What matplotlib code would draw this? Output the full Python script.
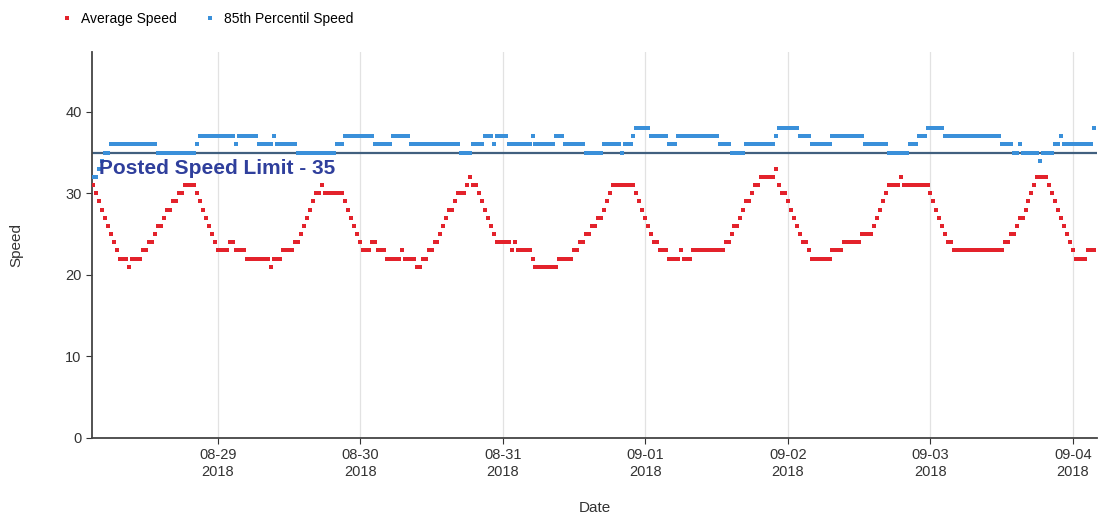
import pandas as pd
import matplotlib
matplotlib.use('Agg')
import matplotlib.pyplot as plt
import matplotlib.dates as mdates

plt.rcParams['font.family'] = ['Liberation Sans', 'DejaVu Sans']

# readings every 30 minutes starting 2018-08-28 03:00
start_time = '2018-08-28 03:00'
interval = '30min'

avg_speed = [
    31, 30, 29, 28, 27, 26, 25, 24, 23, 22, 22, 22,
    21, 22, 22, 22, 22, 23, 23, 24, 24, 25, 26, 26,
    27, 28, 28, 29, 29, 30, 30, 31, 31, 31, 31, 30,
    29, 28, 27, 26, 25, 24, 23, 23, 23, 23, 24, 24,
    23, 23, 23, 23, 22, 22, 22, 22, 22, 22, 22, 22,
    21, 22, 22, 22, 23, 23, 23, 23, 24, 24, 25, 26,
    27, 28, 29, 30, 30, 31, 30, 30, 30, 30, 30, 30,
    30, 29, 28, 27, 26, 25, 24, 23, 23, 23, 24, 24,
    23, 23, 23, 22, 22, 22, 22, 22, 23, 22, 22, 22,
    22, 21, 21, 22, 22, 23, 23, 24, 24, 25, 26, 27,
    28, 28, 29, 30, 30, 30, 31, 32, 31, 31, 30, 29,
    28, 27, 26, 25, 24, 24, 24, 24, 24, 23, 24, 23,
    23, 23, 23, 23, 22, 21, 21, 21, 21, 21, 21, 21,
    21, 22, 22, 22, 22, 22, 23, 23, 24, 24, 25, 25,
    26, 26, 27, 27, 28, 29, 30, 31, 31, 31, 31, 31,
    31, 31, 31, 30, 29, 28, 27, 26, 25, 24, 24, 23,
    23, 23, 22, 22, 22, 22, 23, 22, 22, 22, 23, 23,
    23, 23, 23, 23, 23, 23, 23, 23, 23, 24, 24, 25,
    26, 26, 27, 28, 29, 29, 30, 31, 31, 32, 32, 32,
    32, 32, 33, 31, 30, 30, 29, 28, 27, 26, 25, 24,
    24, 23, 22, 22, 22, 22, 22, 22, 22, 23, 23, 23,
    23, 24, 24, 24, 24, 24, 24, 25, 25, 25, 25, 26,
    27, 28, 29, 30, 31, 31, 31, 31, 32, 31, 31, 31,
    31, 31, 31, 31, 31, 31, 30, 29, 28, 27, 26, 25,
    24, 24, 23, 23, 23, 23, 23, 23, 23, 23, 23, 23,
    23, 23, 23, 23, 23, 23, 23, 24, 24, 25, 25, 26,
    27, 27, 28, 29, 30, 31, 32, 32, 32, 32, 31, 30,
    29, 28, 27, 26, 25, 24, 23, 22, 22, 22, 22, 23,
    23, 23,
]

pct85_speed = [
    32, 32, 33, 34, 35, 35, 36, 36, 36, 36, 36, 36,
    36, 36, 36, 36, 36, 36, 36, 36, 36, 36, 35, 35,
    35, 35, 35, 35, 35, 35, 35, 35, 35, 35, 35, 36,
    37, 37, 37, 37, 37, 37, 37, 37, 37, 37, 37, 37,
    36, 37, 37, 37, 37, 37, 37, 37, 36, 36, 36, 36,
    36, 37, 36, 36, 36, 36, 36, 36, 36, 35, 35, 35,
    35, 35, 35, 35, 35, 35, 35, 35, 35, 35, 36, 36,
    36, 37, 37, 37, 37, 37, 37, 37, 37, 37, 37, 36,
    36, 36, 36, 36, 36, 37, 37, 37, 37, 37, 37, 36,
    36, 36, 36, 36, 36, 36, 36, 36, 36, 36, 36, 36,
    36, 36, 36, 36, 35, 35, 35, 35, 36, 36, 36, 36,
    37, 37, 37, 36, 37, 37, 37, 37, 36, 36, 36, 36,
    36, 36, 36, 36, 37, 36, 36, 36, 36, 36, 36, 36,
    37, 37, 37, 36, 36, 36, 36, 36, 36, 36, 35, 35,
    35, 35, 35, 35, 36, 36, 36, 36, 36, 36, 35, 36,
    36, 36, 37, 38, 38, 38, 38, 38, 37, 37, 37, 37,
    37, 37, 36, 36, 36, 37, 37, 37, 37, 37, 37, 37,
    37, 37, 37, 37, 37, 37, 37, 36, 36, 36, 36, 35,
    35, 35, 35, 35, 36, 36, 36, 36, 36, 36, 36, 36,
    36, 36, 37, 38, 38, 38, 38, 38, 38, 38, 37, 37,
    37, 37, 36, 36, 36, 36, 36, 36, 36, 37, 37, 37,
    37, 37, 37, 37, 37, 37, 37, 37, 36, 36, 36, 36,
    36, 36, 36, 36, 35, 35, 35, 35, 35, 35, 35, 36,
    36, 36, 37, 37, 37, 38, 38, 38, 38, 38, 38, 37,
    37, 37, 37, 37, 37, 37, 37, 37, 37, 37, 37, 37,
    37, 37, 37, 37, 37, 37, 36, 36, 36, 36, 35, 35,
    36, 35, 35, 35, 35, 35, 35, 34, 35, 35, 35, 35,
    36, 36, 37, 36, 36, 36, 36, 36, 36, 36, 36, 36,
    36, 38,
]

speed_limit = 35
limit_label = 'Posted Speed Limit - 35'
day_ticks = ['2018-08-29', '2018-08-30', '2018-08-31', '2018-09-01',
             '2018-09-02', '2018-09-03', '2018-09-04']
y_ticks = [0, 10, 20, 30, 40]

times = pd.date_range(start_time, periods=len(avg_speed), freq=interval)

fig = plt.figure(figsize=(10.99, 5.17), dpi=100)
ax = fig.add_axes([0.0837, 0.153, 0.9143, 0.746])

ax.plot(times, avg_speed, ls='none', marker='s', ms=3.4, mew=0,
        color='#e3222b', label='Average Speed', zorder=3)
ax.plot(times, pct85_speed, ls='none', marker='s', ms=3.4, mew=0,
        color='#3a90da', label='85th Percentil Speed', zorder=3)

ax.axhline(speed_limit, color='#41607f', lw=1.6, zorder=2)
ax.text(times[2], 33.1, limit_label, fontsize=15, fontweight='bold',
        color='#2f3f9c', va='center', ha='left', zorder=4)

ax.set_xticks(pd.to_datetime(day_ticks))
ax.xaxis.set_major_formatter(mdates.DateFormatter('%m-%d\n%Y'))
ax.set_yticks(y_ticks)
ax.set_ylim(0, 47.3)
ax.set_xlim(times[0] - pd.Timedelta(minutes=10), pd.Timestamp('2018-09-04 04:00'))

ax.grid(axis='x', color='#e2e2e2', lw=0.9)
ax.set_axisbelow(True)
for side in ['top', 'right']:
    ax.spines[side].set_visible(False)
for side in ['left', 'bottom']:
    ax.spines[side].set_color('#444444')
    ax.spines[side].set_linewidth(1.3)
ax.tick_params(labelsize=10.5, colors='#333333', length=4)

ax.set_xlabel('Date', fontsize=11, color='#333333', labelpad=16)
ax.set_ylabel('Speed', fontsize=11, color='#333333', labelpad=30)

fig.legend(loc='center left', bbox_to_anchor=(0.0446, 0.963), ncol=2,
           frameon=False, fontsize=10, handlelength=0.8, handletextpad=0.6,
           columnspacing=2.0, markerscale=0.8)

fig.savefig('out.png', dpi=100)
